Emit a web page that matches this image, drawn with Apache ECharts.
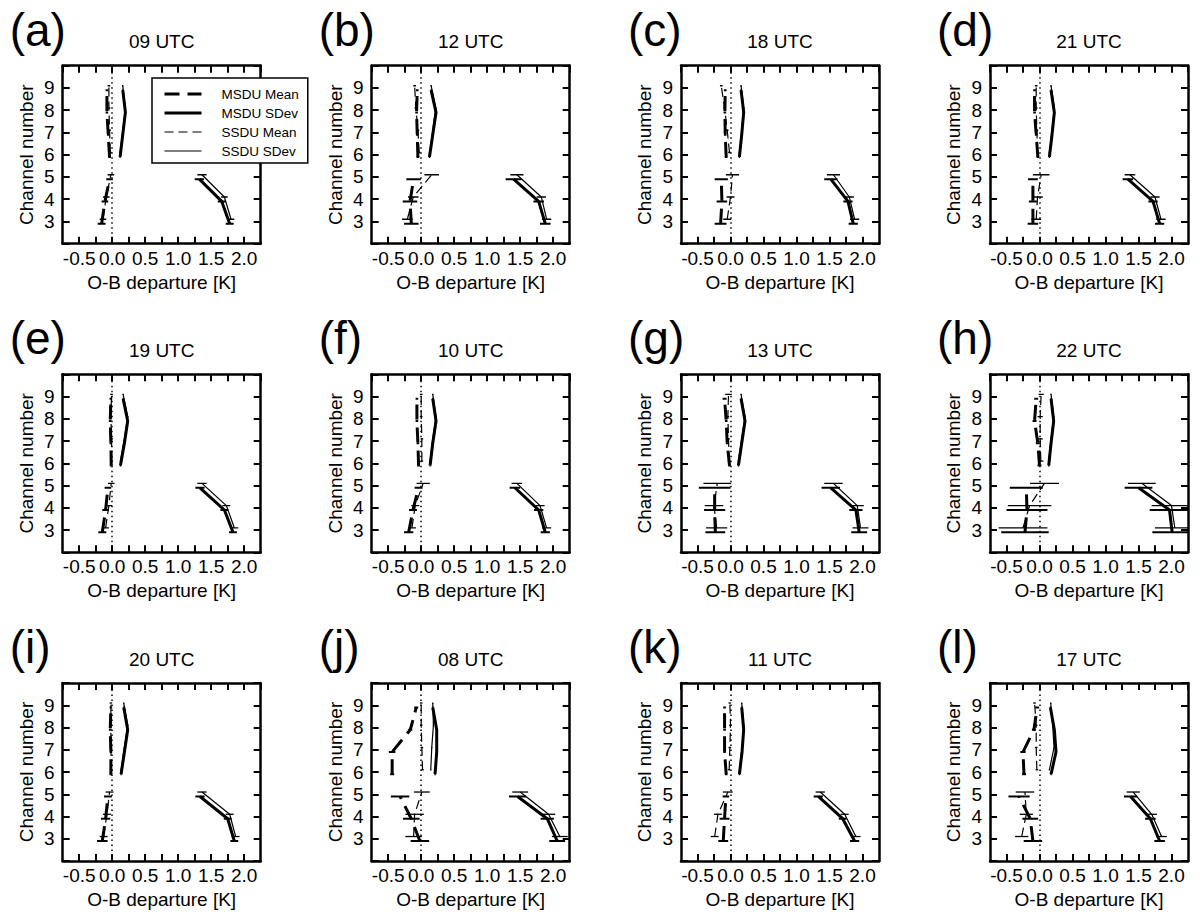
<!DOCTYPE html>
<html><head><meta charset="utf-8">
<script src="https://cdn.jsdelivr.net/npm/echarts@6/dist/echarts.min.js"></script>
<style>html,body{margin:0;padding:0;background:#fff}#c{width:1200px;height:922px}</style>
</head><body><div id="c"></div>
<script>
// ---------------- data ----------------
const panelLabels = ['(a)','(b)','(c)','(d)','(e)','(f)','(g)','(h)','(i)','(j)','(k)','(l)'];
const panelTimes = ['09 UTC','12 UTC','18 UTC','21 UTC','19 UTC','10 UTC','13 UTC','22 UTC','20 UTC','08 UTC','11 UTC','17 UTC'];
const channels = [3,4,5,6,7,8,9];
const seriesNames = ['MSDU Mean','MSDU SDev','SSDU Mean','SSDU SDev'];

// values per panel at channels 3..9
const msduMean = [
  [-0.16,-0.11,-0.04,-0.04,-0.06,-0.08,-0.08],
  [-0.15,-0.17,-0.115,-0.05,-0.06,-0.07,-0.06],
  [-0.15,-0.13,-0.14,-0.065,-0.08,-0.085,-0.08],
  [-0.10,-0.10,-0.10,-0.025,-0.05,-0.075,-0.075],
  [-0.15,-0.10,-0.065,-0.015,-0.02,-0.03,-0.02],
  [-0.19,-0.125,-0.04,-0.04,-0.05,-0.065,-0.065],
  [-0.23,-0.24,-0.24,-0.015,-0.05,-0.065,-0.09],
  [-0.22,-0.19,-0.20,0.0,-0.025,-0.075,-0.05],
  [-0.15,-0.10,-0.065,-0.02,-0.02,-0.03,-0.02],
  [-0.02,-0.15,-0.32,-0.44,-0.44,-0.165,-0.075],
  [-0.11,-0.09,-0.07,-0.065,-0.09,-0.09,-0.09],
  [-0.10,-0.14,-0.31,-0.235,-0.25,-0.085,-0.035]
];
const msduMeanErr = [
  [0.06,0.05,0.05,0.02,0.02,0.02,0.02],
  [0.11,0.11,0.11,0.02,0.02,0.02,0.02],
  [0.09,0.08,0.10,0.02,0.02,0.02,0.02],
  [0.08,0.06,0.075,0.02,0.02,0.02,0.02],
  [0.06,0.05,0.05,0.02,0.02,0.02,0.02],
  [0.07,0.06,0.06,0.02,0.02,0.02,0.02],
  [0.15,0.16,0.24,0.02,0.02,0.02,0.03],
  [0.36,0.31,0.25,0.03,0.03,0.03,0.03],
  [0.08,0.07,0.06,0.02,0.02,0.02,0.02],
  [0.14,0.125,0.14,0.03,0.05,0.03,0.03],
  [0.075,0.075,0.05,0.02,0.02,0.02,0.02],
  [0.14,0.12,0.16,0.03,0.04,0.03,0.03]
];
const ssduMean = [
  [-0.14,-0.09,-0.02,-0.03,-0.04,-0.05,-0.05],
  [-0.21,-0.12,0.16,-0.03,-0.05,-0.08,-0.10],
  [-0.05,0.0,0.03,-0.015,-0.05,-0.09,-0.14],
  [-0.05,-0.03,0.025,-0.03,-0.04,-0.05,-0.05],
  [-0.10,-0.05,-0.015,-0.01,-0.01,-0.02,-0.01],
  [-0.14,-0.09,0.03,0.01,0.01,0.0,0.0],
  [-0.21,-0.25,-0.20,-0.02,-0.03,-0.04,-0.03],
  [-0.25,-0.15,0.075,0.02,0.01,0.01,0.025],
  [-0.13,-0.08,-0.04,-0.015,-0.02,-0.02,-0.02],
  [-0.115,-0.10,0.01,0.02,0.01,0.0,0.0],
  [-0.24,-0.19,-0.04,-0.02,-0.01,0.0,-0.01],
  [-0.27,-0.20,-0.22,-0.04,-0.05,-0.05,-0.075]
];
const ssduMeanErr = [
  [0.05,0.05,0.05,0.02,0.02,0.02,0.02],
  [0.08,0.08,0.11,0.02,0.02,0.02,0.02],
  [0.06,0.06,0.10,0.02,0.02,0.02,0.02],
  [0.075,0.08,0.125,0.02,0.02,0.02,0.02],
  [0.05,0.05,0.05,0.02,0.02,0.02,0.02],
  [0.06,0.06,0.10,0.02,0.02,0.02,0.02],
  [0.16,0.14,0.21,0.02,0.02,0.02,0.05],
  [0.37,0.33,0.22,0.04,0.04,0.04,0.04],
  [0.06,0.06,0.06,0.02,0.02,0.02,0.02],
  [0.125,0.14,0.12,0.02,0.02,0.02,0.02],
  [0.06,0.06,0.075,0.02,0.02,0.02,0.02],
  [0.10,0.10,0.14,0.02,0.02,0.02,0.02]
];
const msduSdev = [
  [1.78,1.66,1.32,0.12,0.16,0.20,0.16],
  [1.88,1.78,1.40,0.125,0.175,0.225,0.15],
  [1.86,1.78,1.52,0.135,0.17,0.20,0.16],
  [1.82,1.72,1.34,0.15,0.19,0.225,0.175],
  [1.83,1.70,1.33,0.125,0.185,0.235,0.165],
  [1.88,1.78,1.42,0.135,0.175,0.225,0.175],
  [1.95,1.90,1.52,0.12,0.17,0.22,0.16],
  [2.01,1.97,1.50,0.14,0.175,0.215,0.175],
  [1.85,1.75,1.33,0.135,0.185,0.235,0.175],
  [2.06,1.91,1.46,0.21,0.235,0.235,0.175],
  [1.88,1.70,1.33,0.135,0.175,0.20,0.17],
  [1.82,1.68,1.38,0.175,0.25,0.225,0.165]
];
const msduSdevErr = [
  [0.06,0.06,0.07,0.01,0.01,0.01,0.01],
  [0.08,0.08,0.12,0.01,0.01,0.01,0.01],
  [0.07,0.07,0.10,0.01,0.01,0.01,0.01],
  [0.07,0.07,0.08,0.01,0.01,0.01,0.01],
  [0.06,0.06,0.07,0.01,0.01,0.01,0.01],
  [0.07,0.07,0.08,0.01,0.01,0.01,0.01],
  [0.12,0.10,0.14,0.01,0.01,0.01,0.01],
  [0.30,0.30,0.21,0.01,0.01,0.01,0.01],
  [0.06,0.06,0.07,0.01,0.01,0.01,0.01],
  [0.12,0.10,0.13,0.01,0.01,0.01,0.01],
  [0.07,0.06,0.07,0.01,0.01,0.01,0.01],
  [0.08,0.08,0.10,0.01,0.01,0.01,0.01]
];
const ssduSdev = [
  [1.80,1.70,1.36,0.12,0.16,0.20,0.16],
  [1.90,1.82,1.45,0.13,0.175,0.22,0.15],
  [1.88,1.80,1.56,0.135,0.17,0.20,0.16],
  [1.84,1.75,1.37,0.15,0.19,0.225,0.175],
  [1.85,1.73,1.36,0.125,0.185,0.235,0.165],
  [1.90,1.80,1.45,0.135,0.175,0.225,0.175],
  [1.97,1.92,1.56,0.12,0.17,0.22,0.16],
  [2.05,2.00,1.55,0.14,0.175,0.215,0.175],
  [1.87,1.78,1.36,0.135,0.185,0.235,0.175],
  [2.10,1.93,1.50,0.145,0.16,0.185,0.175],
  [1.90,1.73,1.36,0.135,0.175,0.20,0.17],
  [1.85,1.70,1.42,0.15,0.22,0.20,0.17]
];
const ssduSdevErr = [
  [0.05,0.05,0.07,0.01,0.01,0.01,0.01],
  [0.07,0.07,0.10,0.01,0.01,0.01,0.01],
  [0.07,0.07,0.10,0.01,0.01,0.01,0.01],
  [0.07,0.07,0.08,0.01,0.01,0.01,0.01],
  [0.06,0.06,0.07,0.01,0.01,0.01,0.01],
  [0.07,0.07,0.08,0.01,0.01,0.01,0.01],
  [0.12,0.10,0.14,0.01,0.01,0.01,0.01],
  [0.30,0.30,0.21,0.01,0.01,0.01,0.01],
  [0.06,0.06,0.07,0.01,0.01,0.01,0.01],
  [0.12,0.10,0.12,0.01,0.01,0.01,0.01],
  [0.07,0.06,0.07,0.01,0.01,0.01,0.01],
  [0.08,0.08,0.10,0.01,0.01,0.01,0.01]
];

// ---------------- layout / style ----------------
const FONT = '"Liberation Sans", Arial, Helvetica, sans-serif';
const colLeft = [62.7, 371.7, 681, 990];
const rowTop = [65.7, 374.3, 683];
const W = 198, H = 178;
const MSDU_DY = -0.1, SSDU_DY = 0.1;
const X_MIN = -0.75, X_MAX = 2.25, X_INT = 0.25;
const Y_MIN = 2, Y_MAX = 10, Y_INT = 1;

const styles = {
  'MSDU Mean': {width: 3, type: [15, 8], dy: MSDU_DY},
  'MSDU SDev': {width: 3, type: 'solid', dy: MSDU_DY},
  'SSDU Mean': {width: 1.2, type: [9, 5], dy: SSDU_DY},
  'SSDU SDev': {width: 1.2, type: 'solid', dy: SSDU_DY}
};

function lineData(vals, dy) {
  const out = [];
  channels.forEach((ch, i) => {
    if (ch === 6) out.push(['-', '-']);
    out.push([vals[i], ch + dy]);
  });
  return out;
}
function barData(vals, errs, dy) {
  return channels.map((ch, i) => [vals[i], ch + dy, errs[i]]);
}
function renderBar(width) {
  return function (params, api) {
    const x = api.value(0), y = api.value(1), e = api.value(2);
    const p1 = api.coord([x - e, y]), p2 = api.coord([x + e, y]);
    return {type: 'line', shape: {x1: p1[0], y1: p1[1], x2: p2[0], y2: p2[1]},
            style: {stroke: '#000', lineWidth: width}};
  };
}

const grids = [], xAxes = [], yAxes = [], series = [], graphics = [];
const axisLine = {show: true, onZero: false, lineStyle: {color: '#000', width: 2.5}};
const axisTick = {show: true, inside: true, length: 7, lineStyle: {color: '#000', width: 2}};

for (let p = 0; p < 12; p++) {
  const col = p % 4, row = Math.floor(p / 4);
  const L = colLeft[col], T = rowTop[row];
  grids.push({left: L, top: T, width: W, height: H, containLabel: false, outerBoundsMode: 'none'});
  const xb = {
    gridIndex: p, type: 'value', position: 'bottom', min: X_MIN, max: X_MAX, interval: X_INT,
    axisLine, axisTick, splitLine: {show: false},
    axisLabel: {show: true, margin: 5, color: '#000', fontSize: 19, fontFamily: FONT,
      showMinLabel: false, showMaxLabel: false,
      formatter: v => { const k = Math.round(v * 2); return Math.abs(v * 2 - k) < 1e-6 ? v.toFixed(1) : ''; }},
    name: 'O-B departure [K]', nameLocation: 'middle', nameGap: 29,
    nameTextStyle: {color: '#000', fontSize: 19, fontFamily: FONT}
  };
  const xt = {
    gridIndex: p, type: 'value', position: 'top', min: X_MIN, max: X_MAX, interval: X_INT,
    axisLine, axisTick, splitLine: {show: false}, axisLabel: {show: false}
  };
  xAxes.push(xb, xt);
  const yl = {
    gridIndex: p, type: 'value', position: 'left', min: Y_MIN, max: Y_MAX, interval: Y_INT,
    axisLine, axisTick, splitLine: {show: false},
    axisLabel: {show: true, margin: 8, color: '#000', fontSize: 19, fontFamily: FONT,
      formatter: v => (v >= 3 && v <= 9) ? String(v) : ''},
    name: 'Channel number', nameLocation: 'middle', nameGap: 27,
    nameTextStyle: {color: '#000', fontSize: 19, fontFamily: FONT}
  };
  const yr = {
    gridIndex: p, type: 'value', position: 'right', min: Y_MIN, max: Y_MAX, interval: Y_INT,
    axisLine, axisTick, splitLine: {show: false}, axisLabel: {show: false}
  };
  yAxes.push(yl, yr);

  const xi = 2 * p, yi = 2 * p;
  const vals = {'MSDU Mean': msduMean[p], 'MSDU SDev': msduSdev[p], 'SSDU Mean': ssduMean[p], 'SSDU SDev': ssduSdev[p]};
  const errs = {'MSDU Mean': msduMeanErr[p], 'MSDU SDev': msduSdevErr[p], 'SSDU Mean': ssduMeanErr[p], 'SSDU SDev': ssduSdevErr[p]};
  seriesNames.forEach((nm, k) => {
    const st = styles[nm];
    const s = {
      name: nm, type: 'line', xAxisIndex: xi, yAxisIndex: yi, color: '#000',
      data: lineData(vals[nm], st.dy), symbol: 'none', showSymbol: false,
      connectNulls: false, clip: true, silent: true, z: 3,
      itemStyle: {color: '#000'},
      lineStyle: {color: '#000', width: st.width, type: st.type}
    };
    if (k === 0) {
      s.markLine = {silent: true, symbol: ['none', 'none'], label: {show: false},
        lineStyle: {color: '#000', width: 1.5, type: [1.5, 3.5]},
        data: [{xAxis: 0}], animation: false};
    }
    series.push(s);
    series.push({
      name: nm + ' err', type: 'custom', xAxisIndex: xi, yAxisIndex: yi, clip: true, silent: true, z: 3,
      renderItem: renderBar(nm.startsWith('MSDU') ? 2 : 1.3),
      data: barData(vals[nm], errs[nm], st.dy)
    });
  });

  graphics.push({type: 'text', x: L - 53, y: T - 36,
    style: {text: panelLabels[p], font: '46px ' + FONT, fill: '#000', textAlign: 'left', textVerticalAlign: 'middle'}});
  graphics.push({type: 'text', x: L + W / 2, y: T - 24,
    style: {text: panelTimes[p], font: '19px ' + FONT, fill: '#000', textAlign: 'center', textVerticalAlign: 'middle'}});
}

const chart = echarts.init(document.getElementById('c'), null, {renderer: 'svg'});
chart.setOption({
  animation: false,
  backgroundColor: '#fff',
  grid: grids, xAxis: xAxes, yAxis: yAxes, series,
  graphic: graphics,
  legend: {
    left: 152, top: 78, orient: 'vertical', backgroundColor: '#fff',
    borderColor: '#000', borderWidth: 1.5, borderRadius: 0,
    padding: [9, 9, 5, 11], itemWidth: 37, itemHeight: 14, itemGap: 5,
    selectedMode: false, z: 10,
    textStyle: {color: '#000', fontSize: 13.5, fontFamily: FONT},
    formatter: nm => '    ' + nm,
    data: seriesNames.map(nm => ({name: nm,
      itemStyle: {opacity: 0},
      lineStyle: {color: '#000', width: styles[nm].width, type: styles[nm].type}}))
  }
});
</script></body></html>
